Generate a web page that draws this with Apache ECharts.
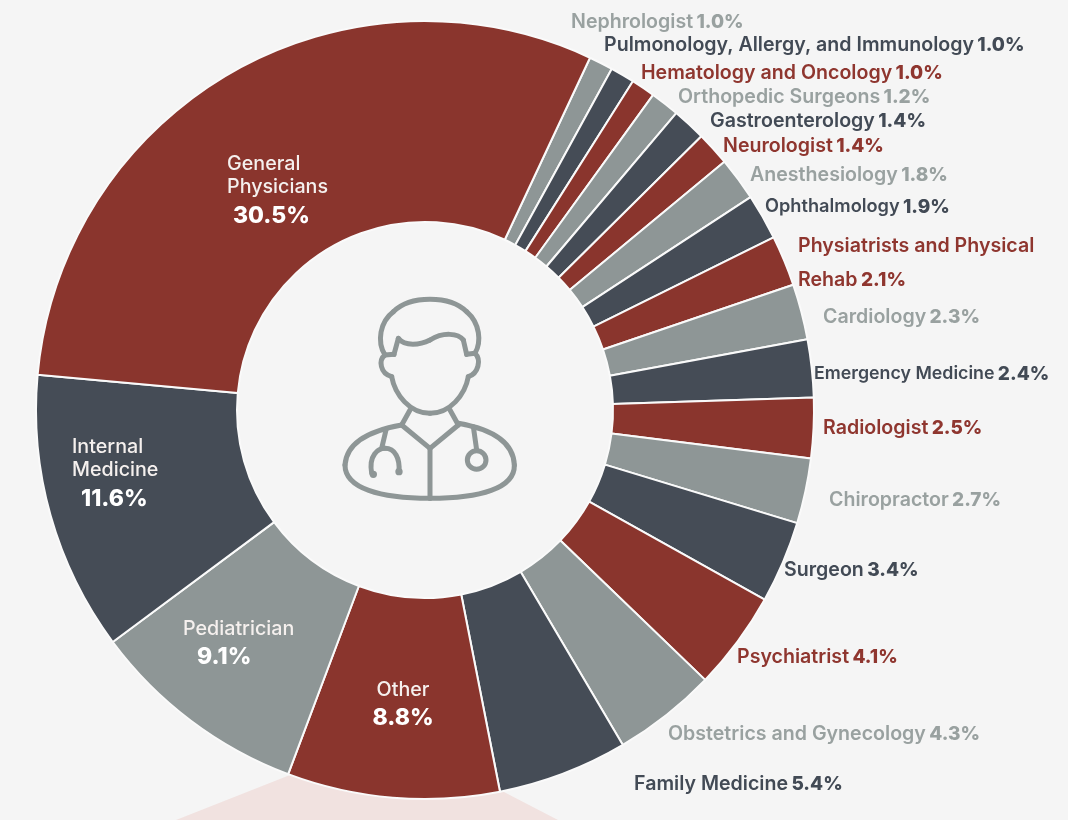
<!DOCTYPE html>
<html><head><meta charset="utf-8">
<style>html,body{margin:0;padding:0;background:#f5f5f5}#c{width:1068px;height:820px}</style>
<script src="https://cdn.jsdelivr.net/npm/echarts@6/dist/echarts.min.js"></script>
</head><body><div id="c"></div>
<script>
const categories = ["Nephrologist","Pulmonology, Allergy, and Immunology","Hematology and Oncology","Orthopedic Surgeons","Gastroenterology","Neurologist","Anesthesiology","Ophthalmology","Physiatrists and Physical\nRehab","Cardiology","Emergency Medicine","Radiologist","Chiropractor","Surgeon","Psychiatrist","Obstetrics and Gynecology","Family Medicine","Other","Pediatrician","Internal\nMedicine","General\nPhysicians"];
const values = [1.0,1.0,1.0,1.2,1.4,1.4,1.8,1.9,2.1,2.3,2.4,2.5,2.7,3.4,4.1,4.3,5.4,8.8,9.1,11.6,30.5];
const tones = ["g","d","r","g","d","r","g","d","r","g","d","r","g","d","r","g","d","r","g","d","r"];
const palette = {r:"#8a352d",d:"#454c56",g:"#8e9696"};
const textPalette = {r:"#8f362f",d:"#424a55",g:"#99a1a0"};
// label anchors: left x, centre y (align c = centred)
const anchors = [[571,22],[604,45],[641,73],[678,97],[710,121],[723,146],[750,175],[765,207],[798,263],[823,317],[814,374],[823,428],[829,500],[784,570],[737,657],[668,734],[634,784],[403,707,"c"],[183,646],[72,476],[227,193]];
const valueIndent = {"General\nPhysicians":6,"Internal\nMedicine":9,"Pediatrician":14};
const smallNames = {"Ophthalmology":18.2,"Emergency Medicine":17.8};
const FONT = "Inter";
const NAME_SIZE = 19.6;
const INNER = 4; // labels from this many last categories sit inside the ring

const rich = {};
for (const k of ["r","d","g"]) {
  rich["n"+k] = {fontFamily:FONT,fontSize:NAME_SIZE,fontWeight:600,color:textPalette[k],lineHeight:34};
  rich["s"+k] = {...rich["n"+k]};
  rich["v"+k] = {fontFamily:FONT,fontSize:19,fontWeight:800,color:textPalette[k],lineHeight:34};
}
rich.iname = {fontFamily:FONT,fontSize:19.7,fontWeight:500,color:"#f5f0ee",lineHeight:23};
rich.ival  = {fontFamily:FONT,fontSize:23,fontWeight:800,color:"#ffffff",lineHeight:34};

function labelRich(i){
  const c = categories[i];
  const r = {...rich};
  if (valueIndent[c]) r.ival = {...rich.ival,padding:[0,0,0,valueIndent[c]]};
  if (smallNames[c]) r["s"+tones[i]] = {...rich["s"+tones[i]],fontSize:smallNames[c]};
  return r;
}
function labelText(i){
  const pct = values[i].toFixed(1)+"%";
  const t = tones[i];
  if (i >= categories.length-INNER) {
    const lines = categories[i].split("\n").map(s=>"{iname|"+s+"}");
    return lines.join("\n")+"\n{ival|"+pct+"}";
  }
  const lines = categories[i].split("\n");
  const last = lines.pop();
  const st = (smallNames[categories[i]]?"s":"n")+t;
  return lines.map(s=>"{"+st+"|"+s+"}\n").join("")+"{"+st+"|"+last+"} {v"+t+"|"+pct+"}";
}

const data = categories.map((c,i)=>({
  name:c, value:values[i],
  itemStyle:{color:palette[tones[i]]},
  label:{formatter:labelText(i),rich:labelRich(i),align:c==="Other"?"center":"left"}
}));

const S = 1/3;
const iconStroke = {stroke:"#8e9696",fill:null,lineWidth:15,lineCap:"round"};
const iconPaths = [
 "M165,210 C140,170 150,110 190,80 C240,30 360,30 410,80 C450,115 455,170 435,205",
 "M165,210 L192,208 L205,160 C225,185 270,180 300,165 C340,140 385,145 400,165 L410,208 L435,205",
 "M165,210 C145,225 150,265 185,275",
 "M435,205 C455,225 445,265 415,275",
 "M185,275 C195,330 240,385 300,385 C360,385 405,330 415,275",
 "M240,375 L215,420","M360,375 L385,420",
 "M215,420 L300,490 L385,420","M300,490 L300,640",
 "M215,420 C130,435 50,465 45,540 C45,610 150,640 300,640 C450,640 555,610 553,540 C550,465 470,430 385,415",
 "M168,435 L155,490","M125,565 C115,510 145,490 165,490 C195,490 210,520 207,560",
 "M430,425 L440,495"
];
function segments(p){
  const out=[]; let cur=null;
  const toks=p.match(/[MLC]|-?[\d.]+/g); let i=0;
  while(i<toks.length){
    const c=toks[i++];
    if(c==="M"){cur=[+toks[i++],+toks[i++]];}
    else if(c==="L"){
      const n=[+toks[i++],+toks[i++]];
      out.push({type:"line",shape:{x1:cur[0],y1:cur[1],x2:n[0],y2:n[1]},style:iconStroke}); cur=n;
    } else if(c==="C"){
      const a=[+toks[i++],+toks[i++],+toks[i++],+toks[i++],+toks[i++],+toks[i++]];
      out.push({type:"bezierCurve",shape:{x1:cur[0],y1:cur[1],cpx1:a[0],cpy1:a[1],cpx2:a[2],cpy2:a[3],x2:a[4],y2:a[5]},style:iconStroke});
      cur=[a[4],a[5]];
    }
  }
  return out;
}

const chart = echarts.init(document.getElementById("c"),null,{renderer:"canvas"});
chart.setOption({
  backgroundColor:"#f5f5f5",
  animation:false,
  graphic:[
    {type:"polygon",z:-1,silent:true,shape:{points:[[290,775],[176,820],[558,820],[502,791],[400,790]]},style:{fill:"#f1e2e0"}},
    {type:"group",z:5,silent:true,x:330,y:285,scaleX:S,scaleY:S,children:[
      ...iconPaths.flatMap(segments),
      {type:"circle",shape:{cx:440,cy:525,r:28},style:iconStroke},
      {type:"circle",shape:{cx:130,cy:568,r:7},style:{fill:"#8e9696",stroke:"#8e9696",lineWidth:8}},
      {type:"circle",shape:{cx:207,cy:560,r:7},style:{fill:"#8e9696",stroke:"#8e9696",lineWidth:8}}
    ]}
  ],
  series:[{
    type:"pie",
    center:[425,410],
    radius:[188,389],
    startAngle:64.9,
    clockwise:true,
    avoidLabelOverlap:false,
    silent:true,
    itemStyle:{borderColor:"#fafafa",borderWidth:2},
    label:{show:true,position:"outside"},
    labelLine:{show:false},
    labelLayout:function(p){
      const a = anchors[p.dataIndex];
      return {x:a[0],y:a[1],align:a[2]==="c"?"center":"left",verticalAlign:"middle"};
    },
    data:data
  }]
});
</script></body></html>
